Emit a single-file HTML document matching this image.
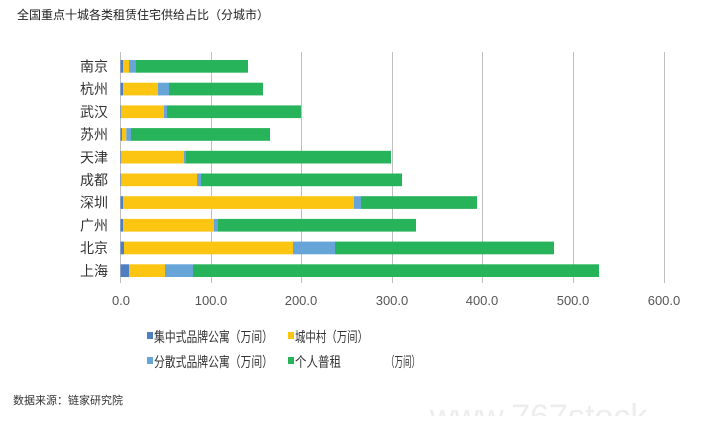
<!DOCTYPE html>
<html><head><meta charset="utf-8"><style>
body{margin:0;background:#fff;width:706px;height:416px;overflow:hidden}
svg text{font-family:"Liberation Sans","Noto Sans CJK SC",sans-serif}
</style></head><body>
<svg width="706" height="416" xmlns="http://www.w3.org/2000/svg">
<text x="17" y="19" font-size="12" fill="#222">全国重点十城各类租赁住宅供给占比（分城市）</text>
<g stroke="#bfbfbf" stroke-width="1">
<line x1="120.5" y1="52" x2="120.5" y2="283"/>
<line x1="211.5" y1="52" x2="211.5" y2="283"/>
<line x1="301.5" y1="52" x2="301.5" y2="283"/>
<line x1="392.5" y1="52" x2="392.5" y2="283"/>
<line x1="482.5" y1="52" x2="482.5" y2="283"/>
<line x1="573.5" y1="52" x2="573.5" y2="283"/>
<line x1="664.5" y1="52" x2="664.5" y2="283"/>
</g>
<g>
<rect x="120.5" y="60" width="2.5" height="12.7" fill="#4e7fc1"/><rect x="123" y="60" width="6" height="12.7" fill="#fcc511"/><rect x="129" y="60" width="7" height="12.7" fill="#67a5d9"/><rect x="136" y="60" width="112" height="12.7" fill="#27b35a"/>
<rect x="120.5" y="82.7" width="2.5" height="12.7" fill="#4e7fc1"/><rect x="123" y="82.7" width="35" height="12.7" fill="#fcc511"/><rect x="158" y="82.7" width="11" height="12.7" fill="#67a5d9"/><rect x="169" y="82.7" width="94" height="12.7" fill="#27b35a"/>
<rect x="120.5" y="105.4" width="0.8" height="12.7" fill="#4e7fc1"/><rect x="121.3" y="105.4" width="42.7" height="12.7" fill="#fcc511"/><rect x="164" y="105.4" width="3" height="12.7" fill="#67a5d9"/><rect x="167" y="105.4" width="134" height="12.7" fill="#27b35a"/>
<rect x="120.5" y="128.1" width="1.5" height="12.7" fill="#4e7fc1"/><rect x="122" y="128.1" width="4.3" height="12.7" fill="#fcc511"/><rect x="126.3" y="128.1" width="4.7" height="12.7" fill="#67a5d9"/><rect x="131" y="128.1" width="139" height="12.7" fill="#27b35a"/>
<rect x="120.5" y="150.8" width="0.8" height="12.7" fill="#4e7fc1"/><rect x="121.3" y="150.8" width="62.7" height="12.7" fill="#fcc511"/><rect x="184" y="150.8" width="2" height="12.7" fill="#67a5d9"/><rect x="186" y="150.8" width="205" height="12.7" fill="#27b35a"/>
<rect x="120.5" y="173.5" width="0.8" height="12.7" fill="#4e7fc1"/><rect x="121.3" y="173.5" width="75.7" height="12.7" fill="#fcc511"/><rect x="197" y="173.5" width="4" height="12.7" fill="#67a5d9"/><rect x="201" y="173.5" width="201" height="12.7" fill="#27b35a"/>
<rect x="120.5" y="196.2" width="2.5" height="12.7" fill="#4e7fc1"/><rect x="123" y="196.2" width="231" height="12.7" fill="#fcc511"/><rect x="354" y="196.2" width="7" height="12.7" fill="#67a5d9"/><rect x="361" y="196.2" width="116" height="12.7" fill="#27b35a"/>
<rect x="120.5" y="218.9" width="2.5" height="12.7" fill="#4e7fc1"/><rect x="123" y="218.9" width="91" height="12.7" fill="#fcc511"/><rect x="214" y="218.9" width="4" height="12.7" fill="#67a5d9"/><rect x="218" y="218.9" width="198" height="12.7" fill="#27b35a"/>
<rect x="120.5" y="241.6" width="3.5" height="12.7" fill="#4e7fc1"/><rect x="124" y="241.6" width="169" height="12.7" fill="#fcc511"/><rect x="293" y="241.6" width="42" height="12.7" fill="#67a5d9"/><rect x="335" y="241.6" width="219" height="12.7" fill="#27b35a"/>
<rect x="120.5" y="264.3" width="8.5" height="12.7" fill="#4e7fc1"/><rect x="129" y="264.3" width="36" height="12.7" fill="#fcc511"/><rect x="165" y="264.3" width="28" height="12.7" fill="#67a5d9"/><rect x="193" y="264.3" width="406" height="12.7" fill="#27b35a"/>
</g>
<g font-size="14" fill="#333" text-anchor="end">
<text x="108" y="71.5">南京</text><text x="108" y="94.2">杭州</text><text x="108" y="116.9">武汉</text><text x="108" y="139.6">苏州</text><text x="108" y="162.3">天津</text><text x="108" y="185">成都</text><text x="108" y="207.7">深圳</text><text x="108" y="230.4">广州</text><text x="108" y="253.1">北京</text><text x="108" y="275.8">上海</text>
</g>
<g font-size="13" fill="#555" text-anchor="middle">
<text x="121" y="305">0.0</text><text x="211" y="305">100.0</text><text x="301" y="305">200.0</text><text x="392" y="305">300.0</text><text x="482" y="305">400.0</text><text x="573" y="305">500.0</text><text x="664" y="305">600.0</text>
</g>
<g font-size="14" fill="#333">
<rect x="147" y="332" width="6" height="7" fill="#4e7fc1"/><text x="154" y="342" textLength="119" lengthAdjust="spacingAndGlyphs">集中式品牌公寓（万间）</text>
<rect x="288" y="332" width="6" height="7" fill="#fcc511"/><text x="295" y="342" textLength="73" lengthAdjust="spacingAndGlyphs">城中村（万间）</text>
<rect x="147" y="357" width="6" height="7" fill="#67a5d9"/><text x="154" y="367" textLength="119" lengthAdjust="spacingAndGlyphs">分散式品牌公寓（万间）</text>
<rect x="288" y="357" width="6" height="7" fill="#27b35a"/><text x="295" y="367" textLength="46" lengthAdjust="spacingAndGlyphs">个人普租</text><text x="386" y="367" textLength="34" lengthAdjust="spacingAndGlyphs">（万间）</text>
</g>
<text x="13" y="404" font-size="11" fill="#333">数据来源：链家研究院</text>
<text x="430" y="428" font-size="34" fill="#ededed">www.767stock</text>
</svg>
</body></html>
